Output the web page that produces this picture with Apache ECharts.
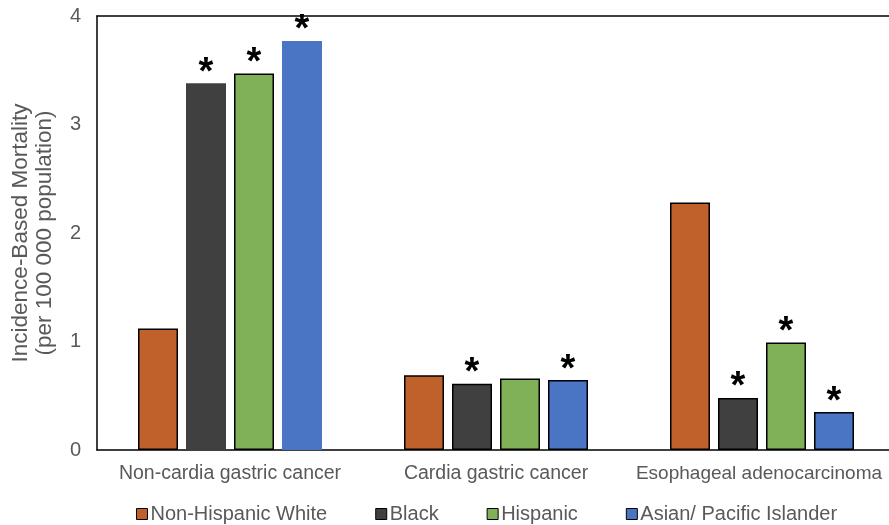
<!DOCTYPE html>
<html>
<head>
<meta charset="utf-8">
<script src="https://cdn.jsdelivr.net/npm/echarts@6/dist/echarts.min.js"></script>
<style>html,body{margin:0;padding:0;background:#fff;}#c{width:889px;height:525px;}</style>
</head>
<body>
<div id="c"></div>
<script>
const categories = ['Non-cardia gastric cancer', 'Cardia gastric cancer', 'Esophageal adenocarcinoma'];
const seriesNames = ['Non-Hispanic White', 'Black', 'Hispanic', 'Asian/ Pacific Islander'];
const nhw = [1.12, 0.69, 2.28];
const black = [3.38, 0.61, 0.48];
const hispanic = [3.47, 0.66, 0.99];
const api = [3.77, 0.645, 0.35];
// significance markers (1 = asterisk)
const sigNhw = [0, 0, 0];
const sigBlack = [1, 1, 1];
const sigHispanic = [1, 0, 1];
const sigApi = [1, 1, 1];
const yTicks = [0, 1, 2, 3, 4];

const colors = ['#C0602A', '#404040', '#80B058', '#4A74C4'];
const values = [nhw, black, hispanic, api];
const sigs = [sigNhw, sigBlack, sigHispanic, sigApi];
const font = 'Liberation Sans, Arial, sans-serif';

const series = seriesNames.map((name, si) => ({
  name: name,
  type: 'bar',
  barWidth: 40,
  barGap: '20%',
  itemStyle: { color: colors[si], borderColor: '#000', borderWidth: 1.5 },
  data: values[si].map((v, ci) => {
    const d = { value: v };
    if (ci === 0 && (si === 1 || si === 3)) d.itemStyle = { borderWidth: 0 };
    if (sigs[si][ci]) {
      d.label = { show: true, position: 'top', formatter: '*', fontSize: 38, fontWeight: 'bold', color: '#000', fontFamily: font, distance: -9 };
    }
    return d;
  })
}));

const chart = echarts.init(document.getElementById('c'));
chart.setOption({
  animation: false,
  backgroundColor: '#fff',
  grid: { left: 97, top: 16, width: 798, height: 434, outerBoundsMode: 'none', containLabel: false },
  legend: {
    bottom: -4, left: 131,
    icon: 'rect', itemWidth: 11, itemHeight: 11, itemGap: 48,
    itemStyle: { borderColor: '#000', borderWidth: 1 },
    textStyle: { fontSize: 20, color: '#595959', fontFamily: font, padding: [0, 0, 0, -2] },
    data: seriesNames
  },
  xAxis: [{
    type: 'category', data: categories,
    axisLine: { show: true, lineStyle: { color: '#000', width: 1.5 } },
    axisTick: { show: false },
    axisLabel: {
      fontSize: 19.5, color: '#595959', fontFamily: font, margin: 14, interval: 0,
      formatter: (v, i) => i === 2 ? '{n|' + v + '}' : v,
      rich: { n: { fontSize: 19, color: '#595959', fontFamily: font, padding: [0, 6, 0, 0] } }
    }
  }, {
    type: 'category', data: categories, position: 'top',
    axisLine: { show: true, onZero: false, lineStyle: { color: '#000', width: 1.5 } },
    axisTick: { show: false },
    axisLabel: { show: false }
  }],
  yAxis: {
    type: 'value', min: 0, max: 4, interval: 1,
    name: 'Incidence-Based Mortality\n(per 100 000 population)',
    nameLocation: 'middle', nameGap: 40,
    nameTextStyle: { fontSize: 22.5, color: '#595959', fontFamily: font, lineHeight: 24 },
    axisLine: { show: true, lineStyle: { color: '#000', width: 1.5 } },
    axisTick: { show: false },
    splitLine: { show: false },
    axisLabel: { fontSize: 20, color: '#595959', fontFamily: font, margin: 16, formatter: v => yTicks.includes(v) ? String(v) : '' }
  },
  series: series
});
</script>
</body>
</html>
